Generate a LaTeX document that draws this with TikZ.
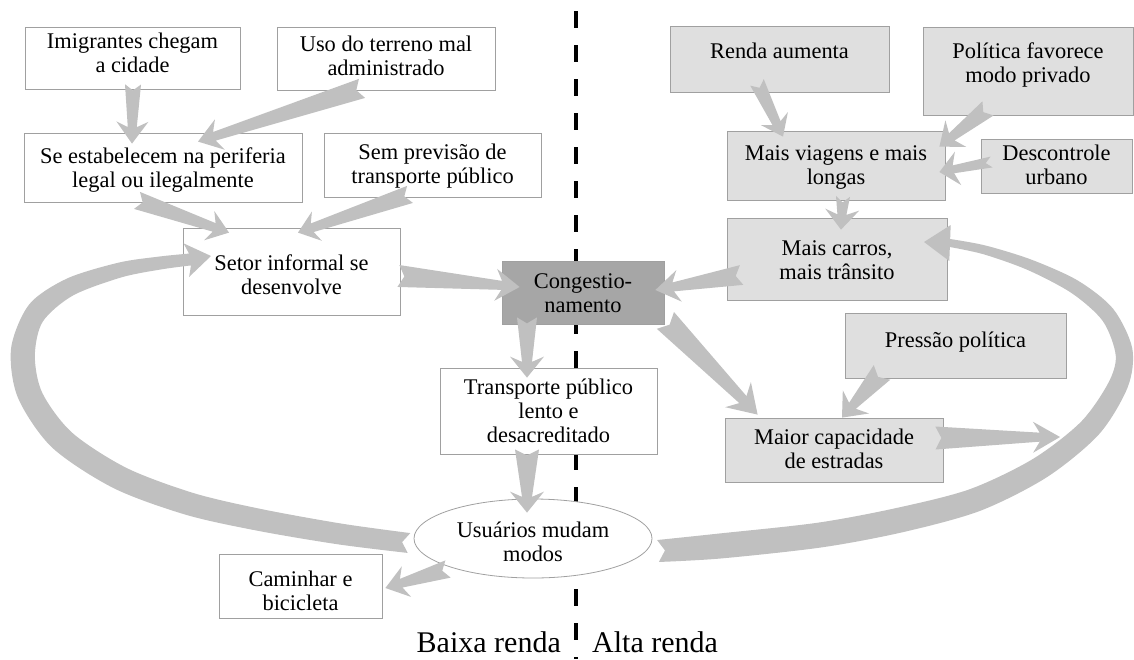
\documentclass[tikz,border=0pt]{standalone}
\usepackage{fontspec}
\setmainfont{Liberation Serif}
\usetikzlibrary{calc,shapes.geometric}

\definecolor{arrowgray}{HTML}{C0C0C0}
\definecolor{boxgray}{HTML}{DFDFDF}
\definecolor{congray}{HTML}{A6A6A6}
\definecolor{edgegray}{HTML}{A0A0A0}

\tikzset{
  box/.style={draw=edgegray, line width=0.8pt, inner sep=0pt},
  wbox/.style={box, fill=white},
  gbox/.style={box, fill=boxgray},
  dbox/.style={box, fill=congray},
  lbl/.style={align=center, font=\fontsize{22.4}{24}\selectfont, inner sep=0pt},
  side/.style={font=\fontsize{30}{32}\selectfont, inner sep=0pt},
  divider/.style={line width=3.5pt, dash pattern=on 17pt off 17pt},
  arrowfill/.style={fill=arrowgray},
}

% box with its caption: style, name, cx, cy, width, height, caption shift, caption
\newcommand\diagbox[8]{%
  \node[#1, minimum width=#5pt, minimum height=#6pt] (#2) at (#3,#4) {};
  \node[lbl] (#2-txt) at ($(#2.center)+(0,#7)$) {#8};
}

% tapered notched block arrow:
% tail, tip, tail half-width, neck half-width, head half-width, head length
\newcommand\blockarrow[6]{%
  \coordinate (ba-tail) at (#1);
  \coordinate (ba-tip) at (#2);
  \path ($(ba-tip)!#6!(ba-tail)$) coordinate (ba-base)
        ($(ba-tip)!0.75*#6!(ba-tail)$) coordinate (ba-neck)
        ($(ba-tail)!6pt!(ba-tip)$) coordinate (ba-notch);
  \fill[arrowfill] ($(ba-tail)!#3!90:(ba-tip)$)
    -- ($(ba-neck)!#4!90:(ba-tip)$)
    -- ($(ba-base)!#5!90:(ba-tip)$)
    -- (ba-tip)
    -- ($(ba-base)!#5!-90:(ba-tip)$)
    -- ($(ba-neck)!#4!-90:(ba-tip)$)
    -- ($(ba-tail)!#3!-90:(ba-tip)$)
    -- (ba-notch) -- cycle;
}

\begin{document}
\begin{tikzpicture}[x=1pt,y=-1pt]
\useasboundingbox (0,0) rectangle (1134,659);
\fill[white] (0,0) rectangle (1134,659);

% divider between the two income groups
\draw[divider] (576,11) -- (576,659);

% low-income side
\diagbox{wbox}{imig}{132.5}{58}{215}{62}{-5}{Imigrantes chegam\\a cidade}
\diagbox{wbox}{uso}{386}{58.5}{218}{63}{-2.5}{Uso do terreno mal\\administrado}
\diagbox{wbox}{estab}{163}{167.5}{278}{69}{3}{Se estabelecem na periferia\\legal ou ilegalmente}
\diagbox{wbox}{semprev}{432.5}{165}{217}{64}{1}{Sem previsão de\\transporte público}
\diagbox{wbox}{setor}{291.5}{271.5}{217}{87}{3}{Setor informal se\\desenvolve}
\diagbox{dbox}{cong}{583}{292.5}{162}{63}{0.5}{Congestio-\\namento}
\diagbox{wbox}{transp}{548.5}{411}{217}{86}{0}{Transporte público\\lento e\\desacreditado}
\node[ellipse, draw=edgegray, line width=0.8pt, fill=white, inner sep=0pt,
      minimum width=238pt, minimum height=79pt] (usu) at (533,538.5) {};
\node[lbl] (usu-txt) at ($(usu.center)+(0,3.5)$) {Usuários mudam\\modos};
\diagbox{wbox}{caminhar}{300.5}{586}{163}{64}{5}{Caminhar e\\bicicleta}

% high-income side
\diagbox{gbox}{renda}{779.5}{59}{219}{66}{-8.5}{Renda aumenta}
\diagbox{gbox}{politica}{1028}{71}{210}{88}{-6.5}{Política favorece\\modo privado}
\diagbox{gbox}{viagens}{836}{165.5}{218}{69}{2}{Mais viagens e mais\\longas}
\diagbox{gbox}{descontrole}{1056.5}{166}{151}{54}{-1}{Descontrole\\urbano}
\diagbox{gbox}{carros}{837}{259}{220}{82}{1}{Mais carros,\\mais trânsito}
\diagbox{gbox}{pressao}{955.5}{345.5}{221}{65}{-3.5}{Pressão política}
\diagbox{gbox}{capac}{834}{450}{218}{64}{-1}{Maior capacidade\\de estradas}

\node[side, anchor=base east] (low) at (561,652) {Baixa renda};
\node[side, anchor=base west] (high) at (592,652) {Alta renda};

% straight block arrows
\blockarrow{$(imig.south)+(0.5,-5)$}{$(estab.north)+(-31,11)$}{8pt}{4.5pt}{16pt}{22pt}
\blockarrow{$(uso.south)+(-24,-2)$}{$(estab.north)+(35,9)$}{10pt}{4.5pt}{16pt}{23pt}
\blockarrow{$(estab.south)+(-26,-2)$}{$(setor.north)+(-62.5,5)$}{9pt}{4.5pt}{15.5pt}{21pt}
\blockarrow{$(semprev.south)+(-22.5,-3)$}{$(setor.north)+(6.5,5)$}{9pt}{4.5pt}{15.5pt}{20pt}
\blockarrow{$(setor.east)+(-2,4.5)$}{$(cong.west)+(18,-5.5)$}{11pt}{4.5pt}{16pt}{24pt}
\blockarrow{$(carros.west)+(15,16)$}{$(cong.east)+(-9,-2.5)$}{10pt}{4.5pt}{16pt}{24pt}
\blockarrow{$(cong.south)+(-56,-7)$}{$(transp.north)+(-21.5,10)$}{10pt}{5pt}{17pt}{21pt}
\blockarrow{$(cong.south east)+(1,-4)$}{$(capac.north west)+(33,-3)$}{12pt}{5pt}{18pt}{28pt}
\blockarrow{$(transp.south)+(-21.5,-5)$}{$(usu.north)+(-6,14)$}{12pt}{5pt}{17pt}{21pt}
\blockarrow{$(usu.center)+(-85,30.5)$}{$(caminhar.east)+(3,2)$}{9pt}{4.5pt}{16pt}{22pt}
\blockarrow{$(renda.south)+(-22.5,-10)$}{$(viagens.north)+(-53,6)$}{7.5pt}{4.5pt}{15pt}{20pt}
\blockarrow{$(politica.south)+(-40,-7)$}{$(viagens.north east)+(-6,16)$}{9pt}{4.5pt}{17pt}{21pt}
\blockarrow{$(descontrole.west)+(11,-4)$}{$(viagens.east)+(-6,6.5)$}{5.5pt}{4pt}{17pt}{19pt}
\blockarrow{$(viagens.south)+(7,-4)$}{$(carros.north)+(4,12)$}{7pt}{4.5pt}{17pt}{20pt}
\blockarrow{$(pressao.south)+(-73.5,-6)$}{$(capac.north)+(8,0)$}{11pt}{4.5pt}{17.5pt}{21pt}
\coordinate (loop-entry) at (1060,437);
\blockarrow{$(capac.east)+(-8,-12)$}{loop-entry}{11.5pt}{4.5pt}{15.5pt}{27pt}

% left feedback loop: users changing modes feed the informal sector
\foreach \n/\x/\y in {1/409/543, 2/340/534, 3/260/520, 4/190/504, 5/120/478,
                      6/62/440, 7/30/395, 8/23/352, 9/36/313, 10/70/287,
                      11/120/270, 12/160/263, 13/190/259.5}
  \coordinate (lc\n) at (\x,\y);
\coordinate (lctip) at (211,256);
\foreach \n/\m/\w in {1/2/10, 2/3/10.5, 3/4/11, 4/5/11.5, 5/6/12, 6/7/12.5,
                      7/8/12.5, 8/9/12.5, 9/10/11, 10/11/9, 11/12/7.5,
                      12/13/6.5, 13/tip/6} {
  \coordinate (lcA\n) at ($(lc\n)!\w pt!90:(lc\m)$);
  \coordinate (lcB\n) at ($(lc\n)!\w pt!-90:(lc\m)$);
}
\path ($(lctip)!25pt!(lc13)$) coordinate (lc-base);
\fill[arrowfill]
  plot[smooth] coordinates {(lcA1) (lcA2) (lcA3) (lcA4) (lcA5) (lcA6) (lcA7)
                            (lcA8) (lcA9) (lcA10) (lcA11) (lcA12) (lcA13)}
  -- ($(lc-base)!17pt!90:(lctip)$) -- (lctip) -- ($(lc-base)!17pt!-90:(lctip)$)
  -- plot[smooth] coordinates {(lcB13) (lcB12) (lcB11) (lcB10) (lcB9) (lcB8)
                               (lcB7) (lcB6) (lcB5) (lcB4) (lcB3) (lcB2) (lcB1)}
  -- ($(lc1)!7pt!(lc2)$) -- cycle;

% right feedback loop: users changing modes feed car traffic
\foreach \n/\x/\y in {1/658/551, 2/720/546, 3/820/535, 4/900/520, 5/975/500,
                      6/1040/468, 7/1090/428, 8/1118/385, 9/1124/352,
                      10/1108/315, 11/1075/287, 12/1030/265, 13/985/250,
                      14/950/243}
  \coordinate (rc\n) at (\x,\y);
\coordinate (rctip) at (924,242);
\foreach \n/\m/\w in {1/2/11, 2/3/12.5, 3/4/12.5, 4/5/12.5, 5/6/12, 6/7/11.5,
                      7/8/11, 8/9/10, 9/10/9, 10/11/8, 11/12/7, 12/13/5.5,
                      13/14/4.5, 14/tip/4} {
  \coordinate (rcA\n) at ($(rc\n)!\w pt!90:(rc\m)$);
  \coordinate (rcB\n) at ($(rc\n)!\w pt!-90:(rc\m)$);
}
\path ($(rctip)!26pt!(rc14)$) coordinate (rc-base);
\fill[arrowfill]
  plot[smooth] coordinates {(rcA1) (rcA2) (rcA3) (rcA4) (rcA5) (rcA6) (rcA7)
                            (rcA8) (rcA9) (rcA10) (rcA11) (rcA12) (rcA13) (rcA14)}
  -- ($(rc-base)!18pt!90:(rctip)$) -- (rctip) -- ($(rc-base)!18pt!-90:(rctip)$)
  -- plot[smooth] coordinates {(rcB14) (rcB13) (rcB12) (rcB11) (rcB10) (rcB9)
                               (rcB8) (rcB7) (rcB6) (rcB5) (rcB4) (rcB3) (rcB2) (rcB1)}
  -- ($(rc1)!7pt!(rc2)$) -- cycle;
\end{tikzpicture}
\end{document}
